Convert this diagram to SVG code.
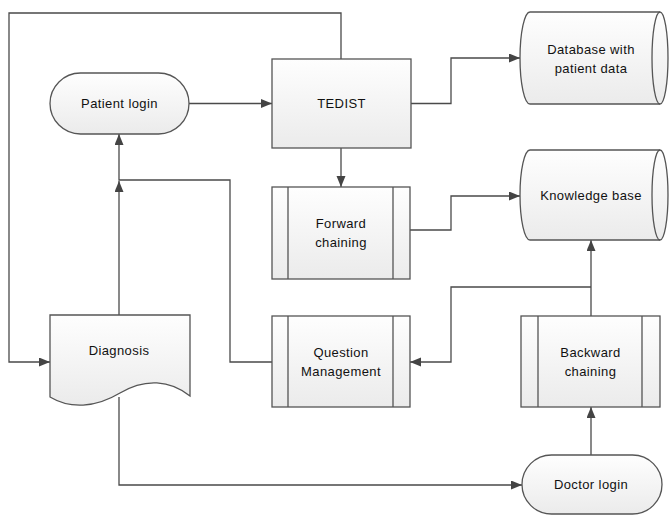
<svg xmlns="http://www.w3.org/2000/svg" width="669" height="515" viewBox="0 0 669 515">
<defs>
<linearGradient id="g" x1="0" y1="0" x2="0" y2="1">
<stop offset="0" stop-color="#fefefe"/>
<stop offset="1" stop-color="#ebebeb"/>
</linearGradient>
<marker id="arr" markerUnits="userSpaceOnUse" markerWidth="12" markerHeight="10" refX="11" refY="4.5" orient="auto">
<path d="M0,0 L11,4.5 L0,9 z" fill="#444"/>
</marker>
<style>
.s{fill:url(#g);stroke:#555;stroke-width:1.3}
.l{fill:none;stroke:#555;stroke-width:1.3}
.c{fill:none;stroke:#4a4a4a;stroke-width:1.3}
.a{marker-end:url(#arr)}
text{font-family:"Liberation Sans",Arial,sans-serif;font-size:13px;letter-spacing:0.4px;fill:#111;text-anchor:middle;dominant-baseline:central}
</style>
</defs>
<rect width="669" height="515" fill="#fff"/>
<g id="connectors">
<path class="c a" d="M189,103.5 H272"/>
<path class="c a" d="M411,103.5 H451 V58 H520"/>
<path class="c a" d="M341,59 V13 H9 V362 H50"/>
<path class="c a" d="M341,148 V187"/>
<path class="c a" d="M410,230 H451 V196 H520"/>
<path class="c a" d="M591,316 V240"/>
<path class="c a" d="M591,287 H451 V362 H410"/>
<path class="c a" d="M591,455 V407"/>
<path class="c a" d="M119,315 V181"/>
<path class="c a" d="M272,362 H230 V180 H119 V134"/>
<path class="c a" d="M119,397 V485 H522"/>
</g>
<g id="patient-login">
<rect class="s" x="50" y="73" width="139" height="61" rx="30.5"/>
<text x="119.5" y="103.5">Patient login</text>
</g>
<g id="tedist">
<rect class="s" x="272" y="59" width="139" height="89"/>
<text x="341.5" y="103.5">TEDIST</text>
</g>
<g id="database">
<path class="s" d="M530,12 H660 A8,46 0 0 1 660,104 H530 A10,46 0 0 1 530,12 Z"/>
<path class="l" d="M660,12 A8,46 0 0 0 660,104"/>
<text x="591" y="49">Database with</text>
<text x="591" y="68">patient data</text>
</g>
<g id="forward-chaining">
<rect class="s" x="272" y="187" width="138" height="92"/>
<path class="l" d="M288,187 V279 M393,187 V279"/>
<text x="341" y="223">Forward</text>
<text x="341" y="242">chaining</text>
</g>
<g id="knowledge-base">
<path class="s" d="M530,150 H660 A8,45 0 0 1 660,240 H530 A10,45 0 0 1 530,150 Z"/>
<path class="l" d="M660,150 A8,45 0 0 0 660,240"/>
<text x="591" y="195">Knowledge base</text>
</g>
<g id="diagnosis">
<path class="s" d="M50,315 H190 V396 C170,380 145,378 120,393 C95,408 70,409 50,397 Z"/>
<text x="119" y="350">Diagnosis</text>
</g>
<g id="question-management">
<rect class="s" x="272" y="316" width="138" height="91"/>
<path class="l" d="M288,316 V407 M393,316 V407"/>
<text x="341" y="352">Question</text>
<text x="341" y="371">Management</text>
</g>
<g id="backward-chaining">
<rect class="s" x="521" y="316" width="139" height="91"/>
<path class="l" d="M538,316 V407 M642,316 V407"/>
<text x="590.5" y="352">Backward</text>
<text x="590.5" y="371">chaining</text>
</g>
<g id="doctor-login">
<rect class="s" x="522" y="455" width="140" height="59" rx="29.5"/>
<text x="591" y="484">Doctor login</text>
</g>
</svg>
